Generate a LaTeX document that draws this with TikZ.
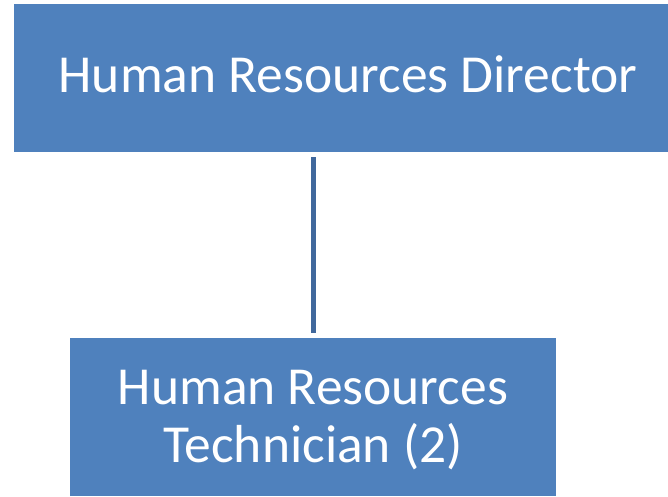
\documentclass[tikz,border=0pt]{standalone}
\usepackage{fontspec}
\setmainfont{Carlito}
\usetikzlibrary{positioning}
\definecolor{boxblue}{HTML}{4F81BD}
\definecolor{lineblue}{HTML}{40689C}

\begin{document}
\begin{tikzpicture}[x=1pt,y=-1pt,node distance=339pt,on grid,
    role/.style={fill=boxblue,text=white,inner sep=0pt,align=center,
      font=\fontsize{53.5}{58}\selectfont}]
   \useasboundingbox (0,0) rectangle (668,496);
   \clip (0,0) rectangle (668,496);
   \node[role] (dir) [minimum width=668pt,minimum height=148pt,
     text height=30pt,text depth=2pt] at (348,78) {Human Resources Director};
   \node[role] (tech) [below=of dir,xshift=-35pt,minimum width=486pt,minimum height=158pt,
     text height=96pt,text depth=6pt] {Human Resources\\Technician (2)};
   \draw[lineblue,line width=5pt,shorten <=5pt,shorten >=5pt]
    (tech.north |- dir.south) -- (tech.north);
\end{tikzpicture}
\end{document}
